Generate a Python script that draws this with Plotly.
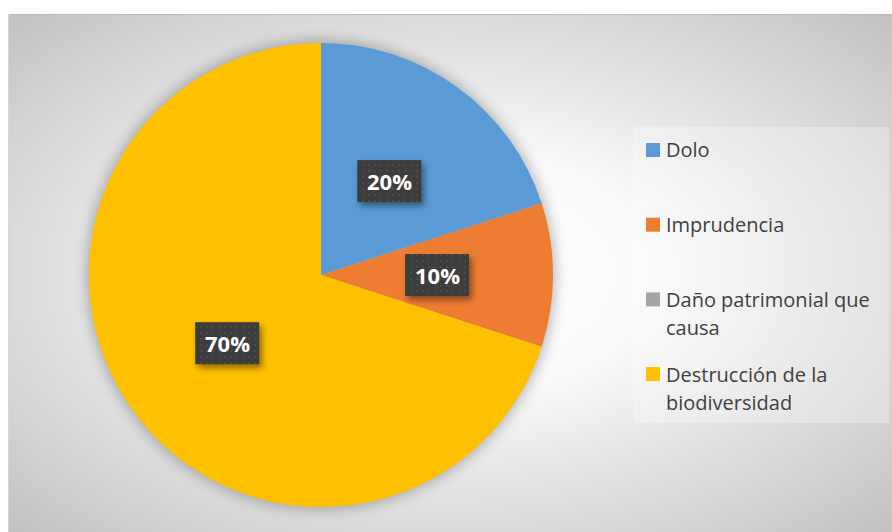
import base64
import math
import textwrap

import plotly.graph_objects as go

# ---- data -------------------------------------------------------------
categories = [
    "Dolo",
    "Imprudencia",
    "Daño patrimonial que causa",
    "Destrucción de la biodiversidad",
]
shares = [20, 10, 0, 70]
slice_colors = ["#5B9BD5", "#ED7D31", "#A5A5A5", "#FFC000"]

# ---- layout constants ---------------------------------------------------
W, H = 892, 532
PIE_X = (0.0998, 0.6200)
PIE_Y = (0.0470, 0.9192)
AREA_LEFT, AREA_TOP = 8, 14          # chart area corner (px)
PLAQUE_W, PLAQUE_H = 64, 42          # data label box size (px)
FONT = "Open Sans"
TEXT_GREY = "#404040"

# pie geometry in pixels (same rule plotly uses to fit the pie in its domain)
pie_r = min(W * (PIE_X[1] - PIE_X[0]), H * (PIE_Y[1] - PIE_Y[0])) / 2
pie_cx = W * (PIE_X[0] + PIE_X[1]) / 2
pie_cy = H * (1 - (PIE_Y[0] + PIE_Y[1]) / 2)   # measured from the top

total = sum(shares)


def svg_uri(svg):
    return "data:image/svg+xml;base64," + base64.b64encode(svg.encode("utf-8")).decode()


# ---- background: radial grey gradient plus a soft glow behind the pie ---
bg_svg = f"""<svg xmlns="http://www.w3.org/2000/svg" width="{W}" height="{H}" viewBox="0 0 {W} {H}">
<defs>
  <radialGradient id="g" cx="0.5" cy="0.5" r="0.72" gradientUnits="objectBoundingBox">
    <stop offset="0" stop-color="#ffffff"/>
    <stop offset="0.32" stop-color="#f9f9f9"/>
    <stop offset="1" stop-color="#c0c0c0"/>
  </radialGradient>
  <filter id="glow" x="-20%" y="-20%" width="140%" height="140%">
    <feGaussianBlur stdDeviation="7"/>
  </filter>
</defs>
<rect x="0" y="0" width="{W}" height="{H}" fill="#ffffff"/>
<rect x="{AREA_LEFT}" y="{AREA_TOP}" width="{W - AREA_LEFT}" height="{H - AREA_TOP}" fill="url(#g)"/>
<line x1="{AREA_LEFT}" y1="{AREA_TOP + 0.5}" x2="{W}" y2="{AREA_TOP + 0.5}" stroke="#bcbcbc" stroke-width="1"/>
<line x1="{AREA_LEFT + 0.5}" y1="{AREA_TOP}" x2="{AREA_LEFT + 0.5}" y2="{H}" stroke="#d6d6d6" stroke-width="1"/>
<circle cx="{pie_cx:.1f}" cy="{pie_cy:.1f}" r="{pie_r + 2:.1f}" fill="#000000" opacity="0.28" filter="url(#glow)"/>
</svg>"""

# ---- data label positions: half radius along each slice's mid angle ------
label_pos = []
start = 0.0
for cat, v in zip(categories, shares):
    mid = (start + v / 2) / total * 2 * math.pi
    start += v
    if v <= 0:
        continue
    px = pie_cx + 0.5 * pie_r * math.sin(mid)
    py = pie_cy - 0.5 * pie_r * math.cos(mid)
    label_pos.append((px, py, 100 * v / total))

# dark dotted plaques with a drop shadow, drawn above the pie
plaques = []
for px, py, _ in label_pos:
    x0, y0 = px - PLAQUE_W / 2, py - PLAQUE_H / 2
    plaques.append(
        f'<rect x="{x0 + 3:.1f}" y="{y0 + 4:.1f}" width="{PLAQUE_W}" height="{PLAQUE_H}" '
        f'fill="#000" opacity="0.42" filter="url(#sh)"/>'
        f'<rect x="{x0:.1f}" y="{y0:.1f}" width="{PLAQUE_W}" height="{PLAQUE_H}" fill="url(#dots)"/>'
    )
plaque_svg = f"""<svg xmlns="http://www.w3.org/2000/svg" width="{W}" height="{H}" viewBox="0 0 {W} {H}">
<defs>
  <pattern id="dots" x="0" y="0" width="6" height="6" patternUnits="userSpaceOnUse">
    <rect width="6" height="6" fill="#3d3d3d"/>
    <rect x="2" y="2" width="2" height="2" fill="#4a4a4a"/>
  </pattern>
  <filter id="sh" x="-30%" y="-30%" width="160%" height="160%">
    <feGaussianBlur stdDeviation="3"/>
  </filter>
</defs>
{''.join(plaques)}
</svg>"""

fig = go.Figure(
    go.Pie(
        labels=categories,
        values=shares,
        marker=dict(colors=slice_colors, line=dict(width=0)),
        sort=False,
        direction="clockwise",
        rotation=0,
        textinfo="none",
        hoverinfo="label+percent",
        showlegend=False,
        domain=dict(x=list(PIE_X), y=list(PIE_Y)),
    )
)

images = [
    dict(source=svg_uri(bg_svg), xref="paper", yref="paper", x=0, y=1,
         sizex=1, sizey=1, xanchor="left", yanchor="top", sizing="stretch", layer="below"),
    dict(source=svg_uri(plaque_svg), xref="paper", yref="paper", x=0, y=1,
         sizex=1, sizey=1, xanchor="left", yanchor="top", sizing="stretch", layer="above"),
]

annotations = []
for px, py, pct in label_pos:
    annotations.append(dict(
        x=px / W, y=1 - py / H, xref="paper", yref="paper",
        text=f"<b>{pct:.0f}%</b>", showarrow=False,
        xanchor="center", yanchor="middle",
        font=dict(family=FONT, size=22, color="#ffffff"),
    ))

# ---- legend (drawn by hand so the entries spread over the box) ----------
LEG_X0, LEG_X1, LEG_Y0, LEG_Y1 = 633, 889, 127, 423
ENTRY_FIRST, ENTRY_STEP = 150, 74.7
MARK = 14
LINE_H = 28.5

shapes = [dict(
    type="rect", xref="paper", yref="paper",
    x0=LEG_X0 / W, x1=LEG_X1 / W, y0=1 - LEG_Y1 / H, y1=1 - LEG_Y0 / H,
    fillcolor="rgba(255,255,255,0.28)", line=dict(width=0), layer="below",
)]
for i, (cat, col) in enumerate(zip(categories, slice_colors)):
    yc = ENTRY_FIRST + i * ENTRY_STEP
    shapes.append(dict(
        type="rect", xref="paper", yref="paper",
        x0=646 / W, x1=(646 + MARK) / W,
        y0=1 - (yc + MARK / 2) / H, y1=1 - (yc - MARK / 2) / H,
        fillcolor=col, line=dict(width=0),
    ))
    for k, line in enumerate(textwrap.wrap(cat, width=20)):
        annotations.append(dict(
            x=664 / W, y=1 - (yc + k * LINE_H) / H, xref="paper", yref="paper",
            text=line, showarrow=False, align="left",
            xanchor="left", yanchor="middle",
            font=dict(family=FONT, size=20, color=TEXT_GREY),
        ))

fig.update_layout(
    width=W, height=H,
    margin=dict(l=0, r=0, t=0, b=0),
    paper_bgcolor="#ffffff",
    images=images,
    shapes=shapes,
    annotations=annotations,
    font=dict(family=FONT),
)

fig.write_html("out.html", config={"displayModeBar": False})
